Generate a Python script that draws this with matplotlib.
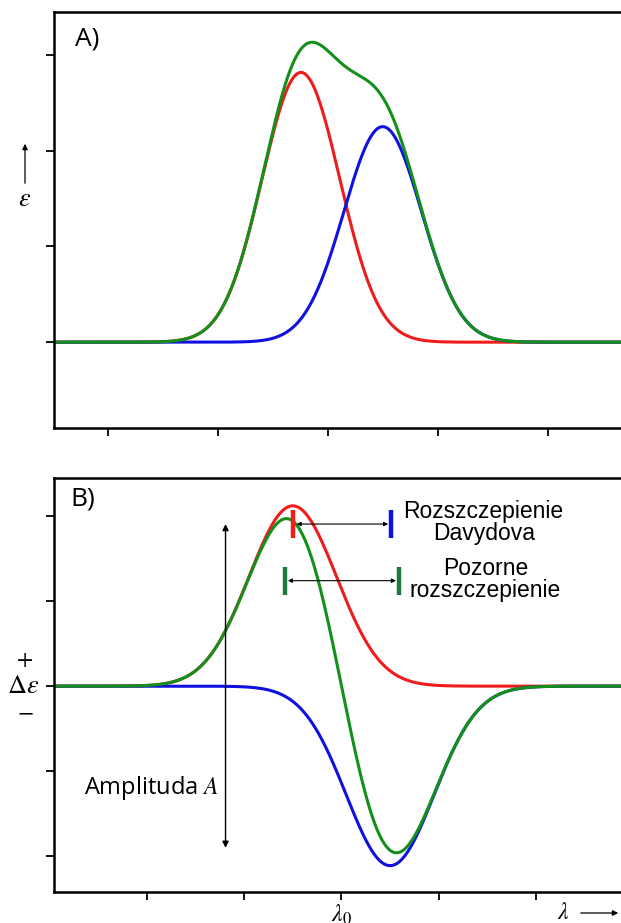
import numpy as np
import matplotlib
matplotlib.use('Agg')
import matplotlib.pyplot as plt

plt.rcParams['mathtext.fontset'] = 'stix'
plt.rcParams['font.family'] = ['Liberation Sans', 'DejaVu Sans']

# Panel A: absorption bands (Gaussian band parameters)
abs_centers = [2.753, 3.497]
abs_heights = [2.816, 2.25]
abs_sigma = [0.353, 0.353]
abs_colors = ['#ee1c1c', '#1010e0']

# Panel B: CD couplet bands
cd_centers = [-0.50, 0.50]
cd_heights = [2.12, -2.11]
cd_sigma = [0.45, 0.45]
cd_colors = ['#ee1c1c', '#1010e0']

green = '#14901a'
dark_green = '#1a7a3c'

a_xticks = [1, 2, 3, 4, 5]
a_yticks = [0, 1, 2, 3]
b_xticks = [-2, -1, 0, 1, 2]
b_yticks = [-2, -1, 0, 1, 2]


def band(x, c, h, s):
    return h * np.exp(-(x - c) ** 2 / (2 * s ** 2))


fig = plt.figure(figsize=(6.21, 9.23), dpi=100)
axA = fig.add_axes([0.0862, 0.5363, 0.92, 0.4510])
axB = fig.add_axes([0.0862, 0.0336, 0.92, 0.4485])

# ---- Panel A
xa = np.linspace(0.4, 5.8, 1200)
total = np.zeros_like(xa)
for c, h, s, col in zip(abs_centers, abs_heights, abs_sigma, abs_colors):
    y = band(xa, c, h, s)
    total += y
    axA.plot(xa, y, color=col, lw=2.2)
axA.plot(xa, total, color=green, lw=2.2)
axA.set_xlim(0.502, 5.70)
axA.set_ylim(-0.896, 3.45)
axA.set_xticks(a_xticks)
axA.set_yticks(a_yticks)
axA.set_xticklabels([])
axA.set_yticklabels([])
axA.text(0.037, 0.965, 'A)', transform=axA.transAxes, fontsize=19,
         family='Open Sans', va='top', ha='left')

# ---- Panel B
xb = np.linspace(-3.1, 3.1, 1200)
total = np.zeros_like(xb)
for c, h, s, col in zip(cd_centers, cd_heights, cd_sigma, cd_colors):
    y = band(xb, c, h, s)
    total += y
    axB.plot(xb, y, color=col, lw=2.2)
axB.plot(xb, total, color=green, lw=2.2)
axB.set_xlim(-2.956, 2.91)
axB.set_ylim(-2.42, 2.447)
axB.set_xticks(b_xticks)
axB.set_yticks(b_yticks)
axB.set_xticklabels([])
axB.set_yticklabels([])
axB.text(0.03, 0.98, 'B)', transform=axB.transAxes, fontsize=19,
         family='Open Sans', va='top', ha='left')

# Davydov splitting markers
axB.plot([cd_centers[0], cd_centers[0]], [1.745, 2.07], color='#ee1c1c', lw=3.2, solid_capstyle='butt')
axB.plot([cd_centers[1] + 0.009, cd_centers[1] + 0.009], [1.745, 2.07], color='#1010e0', lw=3.2, solid_capstyle='butt')
axB.annotate('', xy=(0.48, 1.906), xytext=(-0.46, 1.906),
             arrowprops=dict(arrowstyle='<|-|>', color='black', lw=0.8, mutation_scale=6,
                             shrinkA=0, shrinkB=0))
axB.text(1.46, 1.92, 'Rozszczepienie\nDavydova', ha='center', va='center',
         fontsize=16.5, linespacing=0.95)

# apparent splitting markers
axB.plot([-0.583, -0.583], [1.07, 1.40], color=dark_green, lw=3.2, solid_capstyle='butt')
axB.plot([0.59, 0.59], [1.07, 1.40], color=dark_green, lw=3.2, solid_capstyle='butt')
axB.annotate('', xy=(0.56, 1.24), xytext=(-0.55, 1.24),
             arrowprops=dict(arrowstyle='<|-|>', color='black', lw=0.8, mutation_scale=6,
                             shrinkA=0, shrinkB=0))
axB.text(1.48, 1.25, 'Pozorne\nrozszczepienie', ha='center', va='center',
         fontsize=16.5, linespacing=0.95)

# amplitude arrow
axB.annotate('', xy=(-1.19, -1.90), xytext=(-1.19, 1.906),
             arrowprops=dict(arrowstyle='<|-|>', color='black', lw=1.0, mutation_scale=9,
                             shrinkA=0, shrinkB=0))
axB.text(-1.26, -1.196, 'Amplituda $A$', ha='right', va='center', fontsize=17,
         family='Open Sans')

# x labels (cut by the lower edge, as in the original)
axB.text(0, -0.025, r'$\lambda_0$', transform=axB.get_xaxis_transform(),
         ha='center', va='top', fontsize=17, clip_on=False)
fig.text(563 / 621, 1 - 913 / 923, r'$\lambda$', ha='center', va='center', fontsize=17)
fig.patches.append(matplotlib.patches.FancyArrowPatch(
    (578 / 621, 1 - 913 / 923), (621 / 621, 1 - 913 / 923), transform=fig.transFigure,
    arrowstyle='-|>', mutation_scale=8, lw=0.9, color='black'))

# y labels
fig.patches.append(matplotlib.patches.FancyArrowPatch(
    (25 / 621, 1 - 186 / 923), (25 / 621, 1 - 141 / 923), transform=fig.transFigure,
    arrowstyle='-|>', mutation_scale=8, lw=0.9, color='black'))
fig.text(25 / 621, 1 - 199 / 923, r'$\varepsilon$', ha='center', va='center', fontsize=19)
fig.text(25 / 621, 1 - 660 / 923, '$+$', ha='center', va='center', fontsize=17)
fig.text(23 / 621, 1 - 686 / 923, r'$\Delta\varepsilon$', ha='center', va='center', fontsize=19)
fig.text(25 / 621, 1 - 712 / 923, '$-$', ha='center', va='center', fontsize=17)

for ax in (axA, axB):
    for sp in ax.spines.values():
        sp.set_linewidth(1.8)
    ax.tick_params(direction='out', length=6, width=1.3)

fig.savefig('out.png', dpi=100)
